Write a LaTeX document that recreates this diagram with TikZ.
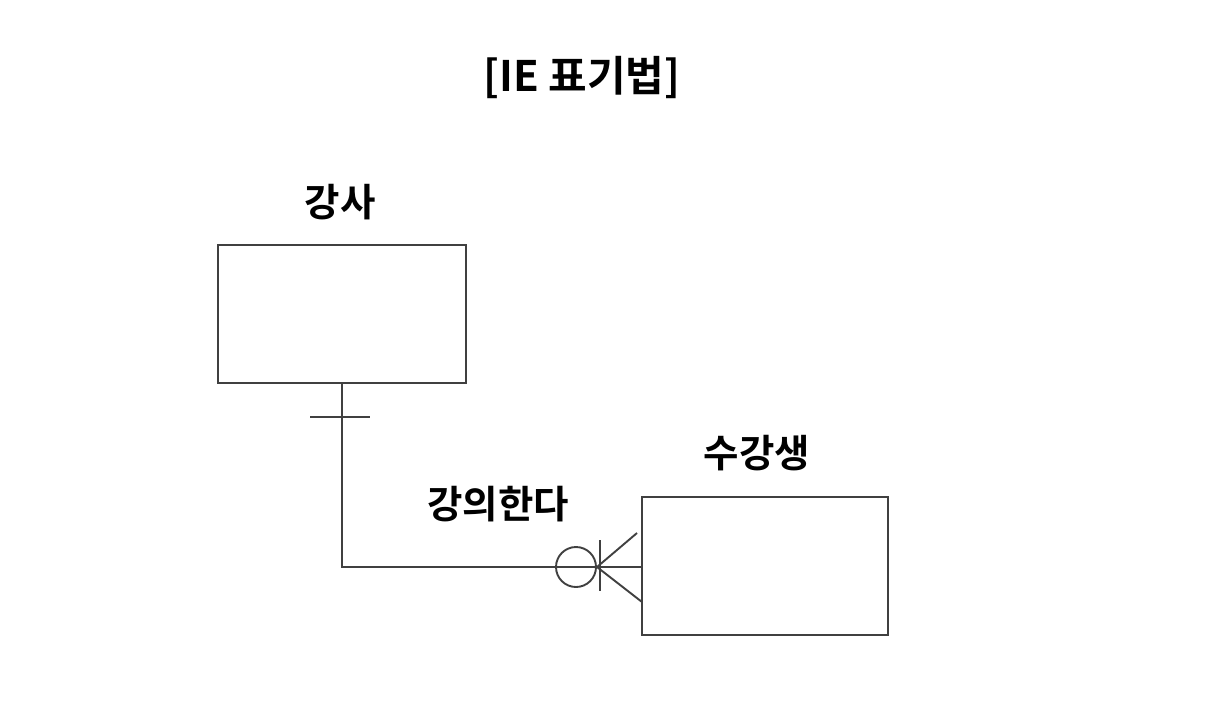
\documentclass[tikz,border=0pt]{standalone}
\usepackage{fontspec}
\newfontfamily\kr{Noto Sans CJK KR Bold}
\begin{document}
\begin{tikzpicture}[x=1pt,y=-1pt,
  line/.style={draw=black!75, line width=1.9pt},
  entity/.style={draw=black!75, line width=1.9pt, fill=white},
  lbl/.style={font=\kr\fontsize{38.5}{42}\selectfont, text=black, inner sep=0pt, anchor=center},
  ttl/.style={font=\kr\fontsize{42}{46}\selectfont, text=black, inner sep=0pt, anchor=center}]
\useasboundingbox (0,0) rectangle (1212,702);
\node[ttl] (title) at (582,78) {[IE 표기법]};
\node[lbl] (tlabel) at (340,202) {강사};
\node[lbl] (slabel) at (757,453) {수강생};
\node[lbl] (rlabel) at (498,504) {강의한다};
\path[entity] (218,245) rectangle (466,383);
\coordinate (tb) at (342,383);
\path[entity] (642,497) rectangle (888,635);
\coordinate (corner) at (342,567);
\coordinate (sl) at (642,567);
\draw[line] (tb) -- (corner) -- (sl);
\draw[line] (310,417) -- (370,417);
\draw[line] (576,567) circle (20);
\draw[line] (600,540) -- (600,591);
\draw[line] (597,567) -- (637,533);
\draw[line] (597,567) -- (642,602);
\end{tikzpicture}
\end{document}
